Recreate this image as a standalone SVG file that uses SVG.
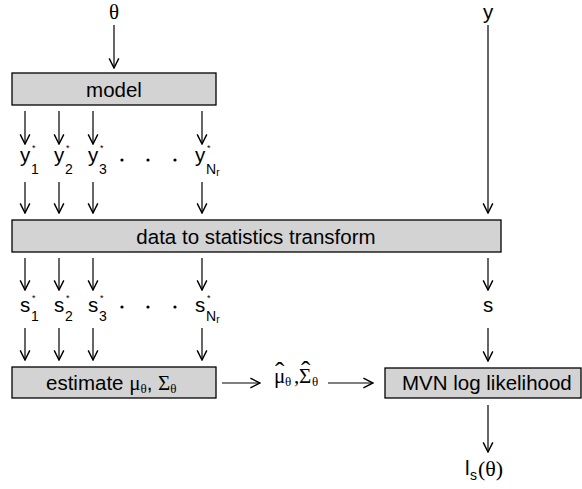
<svg xmlns="http://www.w3.org/2000/svg" width="582" height="489" viewBox="0 0 582 489">
<style>
  .box { fill: #d3d3d3; stroke: #000; stroke-width: 1.3; }
  .lbl { font-family: "Liberation Sans", Arial, sans-serif; font-size: 20.5px; fill: #000; }
  .gr { font-family: "Liberation Serif", "Times New Roman", serif; fill: #000; }
  .sub { font-family: "Liberation Sans", Arial, sans-serif; font-size: 14px; fill: #000; }
  .star { font-family: "Liberation Sans", Arial, sans-serif; font-size: 9px; fill: #000; }
  .arr { stroke: #000; stroke-width: 1.2; fill: none; marker-end: url(#ah); }
</style>
<defs>
  <marker id="ah" markerUnits="userSpaceOnUse" markerWidth="12" markerHeight="12" viewBox="-1 -1 10 10" refX="8" refY="4" orient="auto">
    <path d="M0,0 L8,4 L0,8" fill="none" stroke="#000" stroke-width="1.2"/>
  </marker>
</defs>

<g id="connectors">
  <line class="arr" x1="114" y1="25" x2="114" y2="68"/>
  <line class="arr" x1="25" y1="111" x2="25" y2="144"/>
  <line class="arr" x1="59" y1="111" x2="59" y2="144"/>
  <line class="arr" x1="93" y1="111" x2="93" y2="144"/>
  <line class="arr" x1="202" y1="111" x2="202" y2="144"/>
  <line class="arr" x1="25" y1="182" x2="25" y2="213"/>
  <line class="arr" x1="59" y1="182" x2="59" y2="213"/>
  <line class="arr" x1="93" y1="182" x2="93" y2="213"/>
  <line class="arr" x1="202" y1="182" x2="202" y2="213"/>
  <line class="arr" x1="488" y1="25" x2="488" y2="213"/>
  <line class="arr" x1="25" y1="258" x2="25" y2="290"/>
  <line class="arr" x1="59" y1="258" x2="59" y2="290"/>
  <line class="arr" x1="93" y1="258" x2="93" y2="290"/>
  <line class="arr" x1="202" y1="258" x2="202" y2="290"/>
  <line class="arr" x1="488" y1="258" x2="488" y2="290"/>
  <line class="arr" x1="25" y1="328" x2="25" y2="360"/>
  <line class="arr" x1="59" y1="328" x2="59" y2="360"/>
  <line class="arr" x1="93" y1="328" x2="93" y2="360"/>
  <line class="arr" x1="202" y1="328" x2="202" y2="360"/>
  <line class="arr" x1="488" y1="328" x2="488" y2="361"/>
  <line class="arr" x1="222" y1="383" x2="260" y2="383"/>
  <line class="arr" x1="328" y1="383" x2="373" y2="383"/>
  <line class="arr" x1="488" y1="405" x2="488" y2="452"/>
</g>

<g id="theta">
  <text class="gr" x="114" y="19" font-size="21" text-anchor="middle">θ</text>
</g>
<g id="y-obs">
  <text class="lbl" x="488" y="19" text-anchor="middle">y</text>
</g>

<g id="model">
  <rect class="box" x="12" y="73" width="204" height="32"/>
  <text class="lbl" x="114" y="97" text-anchor="middle">model</text>
</g>

<g id="y-sim">
  <text class="lbl" x="20" y="162">y</text><text class="sub" x="31" y="174">1</text><text class="star" x="32" y="151">*</text>
  <text class="lbl" x="54" y="162">y</text><text class="sub" x="65" y="174">2</text><text class="star" x="66" y="151">*</text>
  <text class="lbl" x="88" y="162">y</text><text class="sub" x="99" y="174">3</text><text class="star" x="100" y="151">*</text>
  <circle cx="122" cy="160" r="1.6"/>
  <circle cx="148" cy="160" r="1.6"/>
  <circle cx="175" cy="160" r="1.6"/>
  <text class="lbl" x="195" y="162">y</text><text class="sub" x="206" y="174">N<tspan font-size="10" dy="2">r</tspan></text><text class="star" x="207" y="151">*</text>
</g>

<g id="transform">
  <rect class="box" x="12" y="220" width="489" height="32"/>
  <text class="lbl" x="256" y="244" text-anchor="middle">data to statistics transform</text>
</g>

<g id="s-sim">
  <text class="lbl" x="20" y="312">s</text><text class="sub" x="31" y="321">1</text><text class="star" x="32" y="301">*</text>
  <text class="lbl" x="54" y="312">s</text><text class="sub" x="65" y="321">2</text><text class="star" x="66" y="301">*</text>
  <text class="lbl" x="88" y="312">s</text><text class="sub" x="99" y="321">3</text><text class="star" x="100" y="301">*</text>
  <circle cx="122" cy="307" r="1.6"/>
  <circle cx="148" cy="307" r="1.6"/>
  <circle cx="175" cy="307" r="1.6"/>
  <text class="lbl" x="195" y="312">s</text><text class="sub" x="206" y="321">N<tspan font-size="10" dy="2">r</tspan></text><text class="star" x="207" y="301">*</text>
</g>

<g id="s-obs">
  <text class="lbl" x="488" y="312" text-anchor="middle">s</text>
</g>

<g id="estimate">
  <rect class="box" x="12" y="367" width="204" height="31"/>
  <text class="lbl" x="46" y="390">estimate <tspan class="gr" font-size="21">μ</tspan><tspan class="gr" font-size="13" dy="3">θ</tspan><tspan dy="-3">, </tspan><tspan class="gr" font-size="21">Σ</tspan><tspan class="gr" font-size="13" dy="3">θ</tspan></text>
</g>

<g id="estimates">
  <text class="gr" font-size="21"><tspan x="274" y="383">μ</tspan><tspan x="275" y="381" font-size="28">ˆ</tspan><tspan x="285" y="386" font-size="13">θ</tspan><tspan x="294" y="383">,</tspan><tspan x="299" y="383">Σ</tspan><tspan x="301" y="380" font-size="28">ˆ</tspan><tspan x="312" y="386" font-size="13">θ</tspan></text>
</g>

<g id="mvn">
  <rect class="box" x="385" y="368" width="196" height="30"/>
  <text class="lbl" x="402" y="390">MVN log likelihood</text>
</g>

<g id="loglik">
  <text class="lbl" x="465" y="475" font-size="22">l</text>
  <text class="sub" x="470" y="480">s</text>
  <text class="gr" x="478" y="476" font-size="22">(θ)</text>
</g>
</svg>
